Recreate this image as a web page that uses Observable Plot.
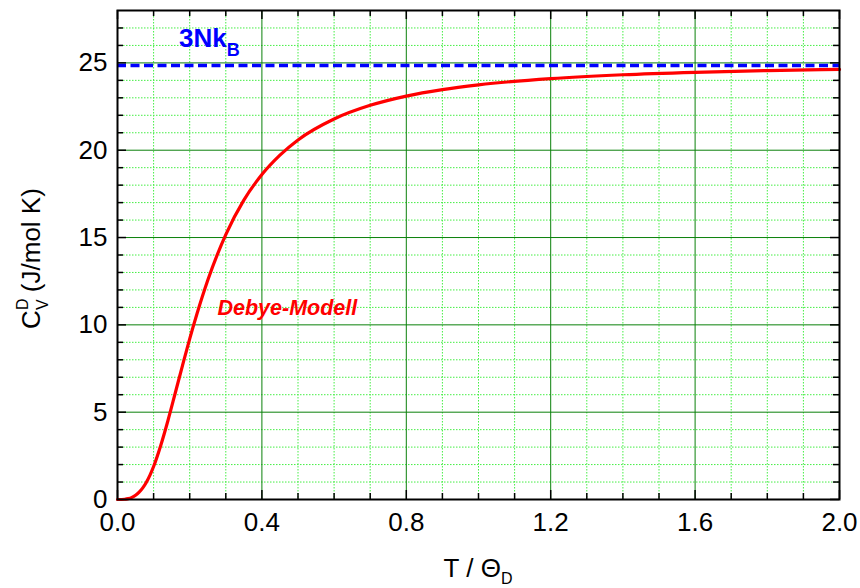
<!DOCTYPE html>
<html><head><meta charset="utf-8">
<script src="https://cdn.jsdelivr.net/npm/d3@7"></script>
<script src="https://cdn.jsdelivr.net/npm/@observablehq/plot@0.6"></script>
<style>body{margin:0;background:#fff}</style>
</head><body><div id="chart"></div>
<script>
// T / Θ_D
const tRatio = [0,0.02,0.03,0.04,0.05,0.06,0.07,0.08,0.09,0.10,0.12,0.14,0.16,0.18,0.20,0.22,0.25,0.30,0.35,0.40,0.45,0.50,0.60,0.70,0.80,0.90,1.00,1.20,1.40,1.60,1.80,2.00];
// C_V^D (J/mol K)
const cvDebye = [0,0.016,0.052,0.124,0.243,0.420,0.666,0.990,1.399,1.890,3.11,4.54,6.10,7.67,9.20,10.62,12.55,15.17,17.14,18.61,19.72,20.59,21.79,22.57,23.10,23.47,23.74,24.10,24.32,24.46,24.56,24.63];
// 3Nk_B limit
const limit3NkB = [24.85];
const xMajorTicks = [0,0.4,0.8,1.2,1.6,2.0];
const xMinorTicks = [0.1,0.2,0.3,0.5,0.6,0.7,0.9,1.0,1.1,1.3,1.4,1.5,1.7,1.8,1.9];
const yMajorTicks = [0,5,10,15,20,25];
const yMinorTicks = [1,2,3,4,6,7,8,9,11,12,13,14,16,17,18,19,21,22,23,24,26,27];
const curveLabel = ["Debye-Modell"];

const W = 860, H = 588, mL = 117, mR = 21, mT = 10, mB = 89;
const plotH = H - mT - mB, plotW = W - mL - mR;
const data = tRatio.map((t, i) => ({t, c: cvDebye[i]}));
const xInner = [...xMajorTicks.slice(1, -1)];
const yInner = [...yMajorTicks.slice(1)];
const minorLen = 6, majorLen = 9;

const plot = Plot.plot({
  width: W, height: H,
  marginLeft: mL, marginRight: mR, marginTop: mT, marginBottom: mB,
  style: {fontFamily: "'Liberation Sans', Arial, sans-serif", fontSize: "26px", background: "#fff", color: "#000"},
  x: {domain: [0, 2], label: null},
  y: {domain: [0, 28], label: null},
  marks: [
    Plot.ruleX(xMinorTicks, {stroke: "#44ee44", strokeWidth: 1, strokeDasharray: "1.5,1.5"}),
    Plot.ruleY(yMinorTicks, {stroke: "#44ee44", strokeWidth: 1, strokeDasharray: "1.5,1.5"}),
    Plot.ruleX(xInner, {stroke: "#0a800a", strokeWidth: 1}),
    Plot.ruleY(yInner, {stroke: "#0a800a", strokeWidth: 1}),
    // inward ticks
    Plot.ruleX(xMinorTicks, {stroke: "#000", strokeWidth: 1.5, insetTop: plotH - minorLen}),
    Plot.ruleX(xMinorTicks, {stroke: "#000", strokeWidth: 1.5, insetBottom: plotH - minorLen}),
    Plot.ruleX(xMajorTicks, {stroke: "#000", strokeWidth: 1.5, insetTop: plotH - majorLen}),
    Plot.ruleX(xMajorTicks, {stroke: "#000", strokeWidth: 1.5, insetBottom: plotH - majorLen}),
    Plot.ruleY(yMinorTicks, {stroke: "#000", strokeWidth: 1.5, insetRight: plotW - minorLen}),
    Plot.ruleY(yMinorTicks, {stroke: "#000", strokeWidth: 1.5, insetLeft: plotW - minorLen}),
    Plot.ruleY(yMajorTicks, {stroke: "#000", strokeWidth: 1.5, insetRight: plotW - majorLen}),
    Plot.ruleY(yMajorTicks, {stroke: "#000", strokeWidth: 1.5, insetLeft: plotW - majorLen}),
    Plot.ruleY(limit3NkB, {stroke: "#0000ff", strokeWidth: 3.5, strokeDasharray: "9,4.5"}),
    Plot.line(data, {x: "t", y: "c", stroke: "#ff0000", strokeWidth: 3.2, curve: "monotone-x"}),
    Plot.text(curveLabel, {x: 0.277, y: 10.95, text: d => d, textAnchor: "start", lineAnchor: "middle", fill: "#ff0000", fontSize: 21.5, fontWeight: "bold", fontStyle: "italic"}),
    Plot.frame({stroke: "#000", strokeWidth: 2}),
    Plot.axisX(xMajorTicks, {tickSize: 0, tickPadding: 13, tickFormat: d3.format(".1f"), label: null, fontSize: 26}),
    Plot.axisY(yMajorTicks, {tickSize: 0, tickPadding: 10, tickFormat: d3.format("d"), label: null, fontSize: 26})
  ]
});

const sx = plot.scale("x"), sy = plot.scale("y");
const svg = d3.select(plot);
// 3NkB annotation
const nk = svg.append("text")
  .attr("x", sx.apply(0.172)).attr("y", sy.apply(25.86))
  .attr("text-anchor", "start")
  .attr("fill", "#0000ff").attr("font-weight", "bold").attr("font-size", 26);
nk.append("tspan").text("3Nk");
nk.append("tspan").attr("font-size", 18).attr("dy", 9).text("B");

// x title
const xt = svg.append("text")
  .attr("x", (sx.apply(0) + sx.apply(2)) / 2).attr("y", 577)
  .attr("text-anchor", "middle").attr("font-size", 26).attr("fill", "#000");
xt.append("tspan").text("T / Θ");
xt.append("tspan").attr("font-size", 16).attr("dy", 7).text("D");

// y title
const yt = svg.append("text")
  .attr("transform", `translate(40,${(sy.apply(0) + sy.apply(28)) / 2 + 4}) rotate(-90)`)
  .attr("text-anchor", "middle").attr("font-size", 26).attr("fill", "#000");
yt.append("tspan").text("C");
yt.append("tspan").attr("font-size", 16).attr("dy", -12).text("D");
yt.append("tspan").attr("font-size", 16).attr("dx", -11.5).attr("dy", 20).text("V");
yt.append("tspan").attr("dy", -8).text(" (J/mol K)");

document.getElementById("chart").appendChild(plot);
</script>
</body></html>
